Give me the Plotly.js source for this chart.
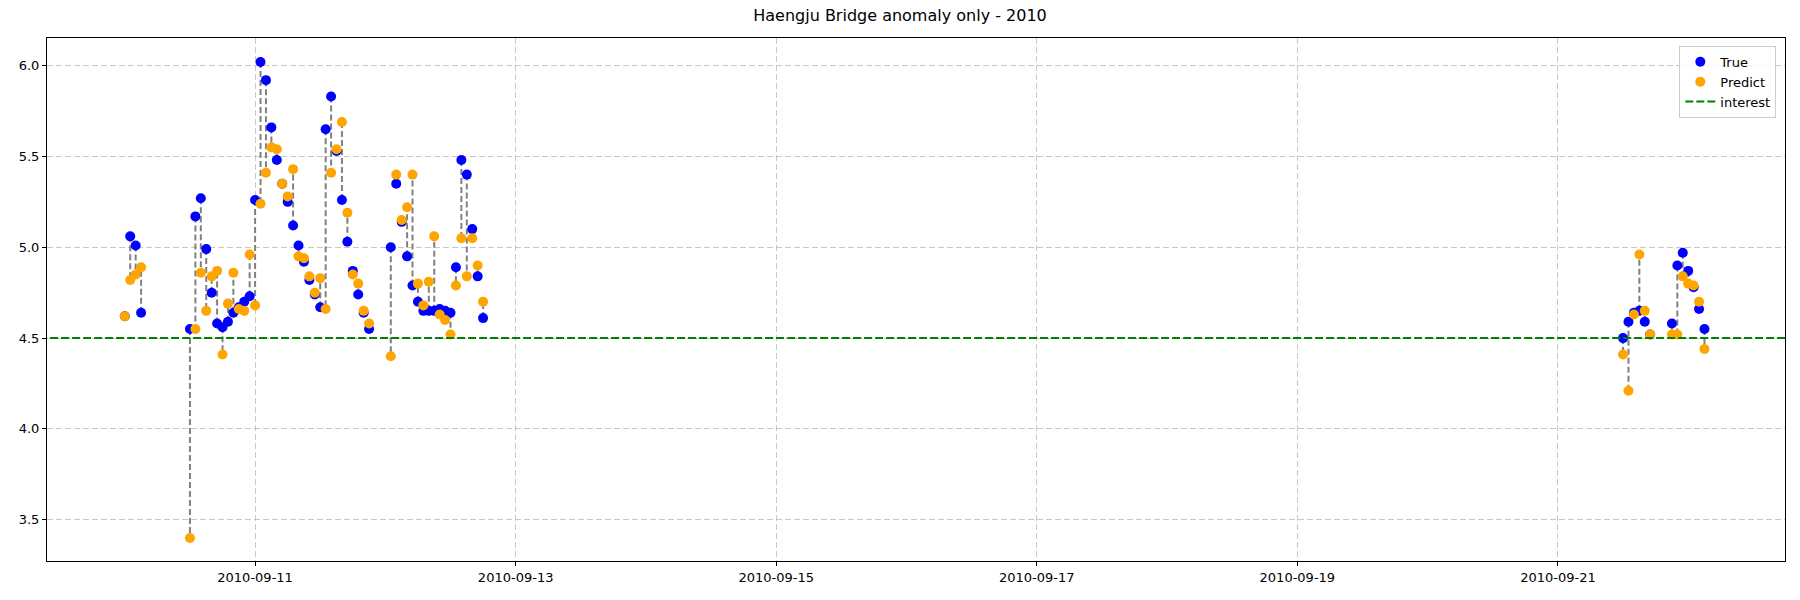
<!DOCTYPE html>
<html>
<head>
<meta charset="utf-8">
<script src="https://cdn.plot.ly/plotly-3.0.1.min.js"></script>
<style>body{margin:0;}#chart{width:1800px;height:600px;}</style>
</head>
<body>
<div id="chart"></div>
<script>
var times = [
  '2010-09-10 00:00', '2010-09-10 01:00', '2010-09-10 02:00', '2010-09-10 03:00',
  '2010-09-10 12:00', '2010-09-10 13:00', '2010-09-10 14:00', '2010-09-10 15:00', '2010-09-10 16:00',
  '2010-09-10 17:00', '2010-09-10 18:00', '2010-09-10 19:00', '2010-09-10 20:00', '2010-09-10 21:00',
  '2010-09-10 22:00', '2010-09-10 23:00', '2010-09-11 00:00', '2010-09-11 01:00', '2010-09-11 02:00',
  '2010-09-11 03:00', '2010-09-11 04:00', '2010-09-11 05:00', '2010-09-11 06:00', '2010-09-11 07:00',
  '2010-09-11 08:00', '2010-09-11 09:00', '2010-09-11 10:00', '2010-09-11 11:00', '2010-09-11 12:00',
  '2010-09-11 13:00', '2010-09-11 14:00', '2010-09-11 15:00', '2010-09-11 16:00', '2010-09-11 17:00',
  '2010-09-11 18:00', '2010-09-11 19:00', '2010-09-11 20:00', '2010-09-11 21:00',
  '2010-09-12 01:00', '2010-09-12 02:00', '2010-09-12 03:00', '2010-09-12 04:00', '2010-09-12 05:00',
  '2010-09-12 06:00', '2010-09-12 07:00', '2010-09-12 08:00', '2010-09-12 09:00', '2010-09-12 10:00',
  '2010-09-12 11:00', '2010-09-12 12:00', '2010-09-12 13:00', '2010-09-12 14:00', '2010-09-12 15:00',
  '2010-09-12 16:00', '2010-09-12 17:00', '2010-09-12 18:00',
  '2010-09-21 12:00', '2010-09-21 13:00', '2010-09-21 14:00', '2010-09-21 15:00', '2010-09-21 16:00',
  '2010-09-21 17:00',
  '2010-09-21 21:00', '2010-09-21 22:00', '2010-09-21 23:00', '2010-09-22 00:00', '2010-09-22 01:00',
  '2010-09-22 02:00', '2010-09-22 03:00'
];

var trueVals = [
  4.62, 5.06, 5.01, 4.64,
  4.55, 5.17, 5.27, 4.99, 4.75, 4.58, 4.56, 4.59, 4.64, 4.67, 4.70, 4.73,
  5.26, 6.02, 5.92, 5.66, 5.48, 5.35, 5.25, 5.12, 5.01, 4.92, 4.82, 4.74, 4.67,
  5.65, 5.83, 5.53, 5.26, 5.03, 4.87, 4.74, 4.64, 4.55,
  5.00, 5.35, 5.14, 4.95, 4.79, 4.70, 4.65, 4.65, 4.65, 4.66, 4.65, 4.64,
  4.89, 5.48, 5.40, 5.10, 4.84, 4.61,
  4.50, 4.59, 4.64, 4.65, 4.59, 4.52,
  4.58, 4.90, 4.97, 4.87, 4.78, 4.66, 4.55
];

var predVals = [
  4.62, 4.82, 4.85, 4.89,
  3.40, 4.55, 4.86, 4.65, 4.84, 4.87, 4.41, 4.69, 4.86, 4.66, 4.65, 4.96,
  4.68, 5.24, 5.41, 5.55, 5.54, 5.35, 5.28, 5.43, 4.95, 4.94, 4.84, 4.75, 4.83,
  4.66, 5.41, 5.54, 5.69, 5.19, 4.85, 4.80, 4.65, 4.58,
  4.40, 5.40, 5.15, 5.22, 5.40, 4.80, 4.68, 4.81, 5.06, 4.63, 4.60, 4.52,
  4.79, 5.05, 4.84, 5.05, 4.90, 4.70,
  4.41, 4.21, 4.63, 4.96, 4.65, 4.52,
  4.52, 4.52, 4.84, 4.80, 4.79, 4.70, 4.44
];

var threshold = 4.5;

// vertical dashed links between true and predicted values
var linkX = [], linkY = [];
for (var i = 0; i < times.length; i++) {
  linkX.push(times[i], times[i], null);
  linkY.push(trueVals[i], predVals[i], null);
}

var data = [
  {
    x: linkX, y: linkY, type: 'scatter', mode: 'lines',
    line: {color: 'rgb(128,128,128)', width: 2, dash: '6px,3px'},
    showlegend: false, hoverinfo: 'skip'
  },
  {
    x: times, y: trueVals, type: 'scatter', mode: 'markers', name: 'True',
    marker: {color: 'blue', size: 10}
  },
  {
    x: times, y: predVals, type: 'scatter', mode: 'markers', name: 'Predict',
    marker: {color: 'orange', size: 10}
  },
  {
    x: ['2010-09-08 16:00', '2010-09-23 20:00'], y: [threshold, threshold],
    type: 'scatter', mode: 'lines', name: 'interest',
    line: {color: 'green', width: 2, dash: '8px,3px'}
  }
];

var layout = {
  width: 1800,
  height: 600,
  margin: {l: 47, r: 15, t: 38, b: 39},
  paper_bgcolor: 'white',
  plot_bgcolor: 'white',
  font: {family: 'DejaVu Sans', size: 13, color: 'black'},
  title: {
    text: 'Haengju Bridge anomaly only - 2010',
    font: {size: 16},
    x: 0.5, xanchor: 'center', y: 0.975, yanchor: 'middle'
  },
  xaxis: {
    type: 'date',
    range: ['2010-09-09 09:40', '2010-09-22 17:50'],
    tick0: '2010-09-11',
    dtick: 2 * 86400000,
    tickformat: '%Y-%m-%d',
    showgrid: true,
    gridcolor: 'rgba(176,176,176,0.7)',
    griddash: '6px,3px',
    zeroline: false,
    showline: true, mirror: true, linecolor: 'black', linewidth: 1,
    ticks: 'outside', ticklen: 4, tickcolor: 'black'
  },
  yaxis: {
    range: [3.273, 6.152],
    tick0: 3.5, dtick: 0.5,
    tickformat: '.1f',
    showgrid: true,
    gridcolor: 'rgba(176,176,176,0.7)',
    griddash: '6px,3px',
    zeroline: false,
    showline: true, mirror: true, linecolor: 'black', linewidth: 1,
    ticks: 'outside', ticklen: 4, tickcolor: 'black'
  },
  legend: {
    x: 0.995, y: 0.985, xanchor: 'right', yanchor: 'top',
    bgcolor: 'rgba(255,255,255,0.8)',
    bordercolor: 'rgb(204,204,204)', borderwidth: 1,
    font: {size: 13}
  }
};

Plotly.newPlot('chart', data, layout, {displayModeBar: false});
</script>
</body>
</html>
